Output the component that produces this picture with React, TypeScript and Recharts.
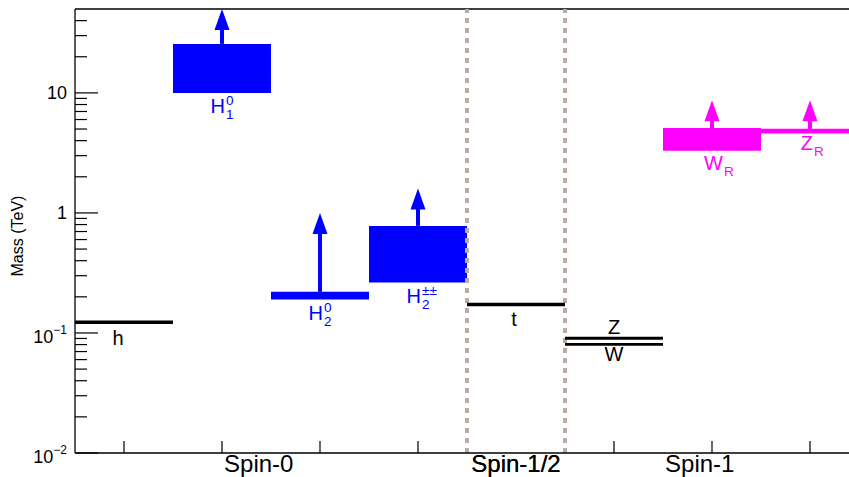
import React from 'react';
import { ComposedChart, XAxis, YAxis, ReferenceArea, ReferenceLine, Scatter } from 'recharts';

// ---------- data ----------
// spin groups along the x axis (bins 0..8)
const spinLabels = ['Spin-0', 'Spin-1/2', 'Spin-1'];
const spinLabelPos = [1.875, 4.5, 6.375];
const spinBoundaries = [4, 5];
const xBinTicks = [0.5, 1.5, 2.5, 3.5, 4.5, 5.5, 6.5, 7.5];

// y axis ticks (TeV, log scale)
const yMajorTicks = [0.01, 0.1, 1, 10];
const yMinorTicks = [
  0.02, 0.03, 0.04, 0.05, 0.06, 0.07, 0.08, 0.09,
  0.2, 0.3, 0.4, 0.5, 0.6, 0.7, 0.8, 0.9,
  2, 3, 4, 5, 6, 7, 8, 9,
  20, 30, 40,
];
const yDomain = [0.01, 50];

// mass ranges drawn as boxes
const boxNames = ['H1', 'H2', 'Hpp', 'WR'];
const boxBin = [1, 2, 3, 6];
const boxLow = [10, 0.19, 0.263, 3.3];
const boxHigh = [25.6, 0.22, 0.78, 5.1];
const boxGroup = ['scalar', 'scalar', 'scalar', 'gauge'];

// single mass values drawn as lines
const lineNames = ['h', 't', 'Z', 'W', 'ZR'];
const lineBin = [0, 4, 5, 5, 7];
const lineMass = [0.123, 0.173, 0.0905, 0.0803, 4.8];
const lineGroup = ['sm', 'sm', 'sm', 'sm', 'gauge'];

// lower-limit arrows
const arrowBin = [1, 2, 3, 6, 7];
const arrowFrom = [25.6, 0.22, 0.78, 5.1, 4.8];
const arrowTo = [50, 1.0, 1.6, 8.7, 8.7];
const arrowGroup = ['scalar', 'scalar', 'scalar', 'gauge', 'gauge'];

// particle labels
const labelNames = ['h', 'H1', 'H2', 'Hpp', 't', 'Z', 'W', 'WR', 'ZR'];
const labelBase = ['h', 'H', 'H', 'H', 't', 'Z', 'W', 'W', 'Z'];
const labelSub = ['', '1', '2', '2', '', '', '', 'R', 'R'];
const labelSup = ['', '0', '0', '±±', '', '', '', '', ''];
const labelBin = [0, 1, 2, 3, 4, 5, 5, 6, 7];
const labelMass = [0.123, 10, 0.19, 0.263, 0.173, 0.0905, 0.0803, 3.3, 4.8];
const labelGroup = ['sm', 'scalar', 'scalar', 'scalar', 'sm', 'sm', 'sm', 'gauge', 'gauge'];

// ---------- styles ----------
const FONT = '"Liberation Sans", Arial, Helvetica, sans-serif';
const groupColor: Record<string, string> = { sm: '#000000', scalar: '#0000ff', gauge: '#ff00ff' };
const DOT_COLOR = '#bcaaa4';
const lineWidth: Record<string, number> = { h: 3.5, t: 3.5, Z: 3, W: 2.6, ZR: 4.6 };
// pixel offsets of label text relative to anchor point
const labelOffset: Record<string, { dx: number; dy: number }> = {
  h: { dx: -6, dy: 23 },
  t: { dx: -2, dy: 22 },
  Z: { dx: 0, dy: -4 },
  W: { dx: 0, dy: 16.5 },
  H1: { dx: 3, dy: 20 },
  H2: { dx: 3, dy: 20 },
  Hpp: { dx: 3, dy: 20 },
  WR: { dx: 11, dy: 19 },
  ZR: { dx: 3, dy: 19 },
};

const labelPoints = labelNames.map((n, i) => ({
  name: n,
  x: labelBin[i] + 0.5,
  y: labelMass[i],
  base: labelBase[i],
  sub: labelSub[i],
  sup: labelSup[i],
  color: groupColor[labelGroup[i]],
}));

const LabelShape = (props: any) => {
  const { cx, cy, payload } = props;
  if (cx == null || cy == null) return null;
  const off = labelOffset[payload.name];
  const bx = cx + off.dx;
  const by = cy + off.dy;
  const hasScript = payload.sub || payload.sup;
  return (
    <g>
      <text
        x={bx}
        y={by}
        textAnchor={hasScript ? 'end' : 'middle'}
        fontSize={20}
        fontFamily={FONT}
        fill={payload.color}
      >
        {payload.base}
      </text>
      {payload.sup ? (
        <text x={bx + 1} y={by - 8} textAnchor="start" fontSize={13.5} fontFamily={FONT} fill={payload.color}>
          {payload.sup}
        </text>
      ) : null}
      {payload.sub ? (
        <text x={bx + 1} y={by + 6} textAnchor="start" fontSize={13.5} fontFamily={FONT} fill={payload.color}>
          {payload.sub}
        </text>
      ) : null}
    </g>
  );
};

const ArrowShape = (color: string) => (props: any) => {
  const { x1, y1, x2, y2 } = props;
  if ([x1, y1, x2, y2].some((v) => v == null || Number.isNaN(v))) return null;
  const headH = 21;
  const headW = 15;
  return (
    <g>
      <line x1={x1} y1={y1} x2={x2} y2={y2 + headH - 1} stroke={color} strokeWidth={4} />
      <polygon
        points={`${x2},${y2} ${x2 - headW / 2},${y2 + headH} ${x2 + headW / 2},${y2 + headH}`}
        fill={color}
      />
    </g>
  );
};

const XTick = (props: any) => {
  const { x, y, payload } = props;
  const v = payload.value;
  const li = spinLabelPos.indexOf(v);
  if (li >= 0) {
    return (
      <text x={x} y={y + 18.5} textAnchor="middle" fontSize={24} fontFamily={FONT} fill="#000">
        {spinLabels[li]}
      </text>
    );
  }
  return <line x1={x} x2={x} y1={y} y2={y - 12} stroke="#000" strokeWidth={1.2} />;
};

const expText: Record<number, string> = { 0.01: '−2', 0.1: '−1' };

const YTick = (props: any) => {
  const { x, y, payload } = props;
  const v = payload.value;
  const major = yMajorTicks.includes(v);
  const len = major ? 23 : 12;
  return (
    <g>
      <line x1={x} x2={x + len} y1={y} y2={y} stroke="#000" strokeWidth={1.2} />
      {major ? (
        v >= 1 ? (
          <text x={x - 8} y={y + 6.5} textAnchor="end" fontSize={18} fontFamily={FONT} fill="#000">
            {String(v)}
          </text>
        ) : (
          <text x={x - 8} y={y + 10} textAnchor="end" fontSize={18} fontFamily={FONT} fill="#000">
            <tspan>10</tspan>
            <tspan dy={-9} fontSize={12}>{expText[v]}</tspan>
          </text>
        )
      ) : null}
    </g>
  );
};

const YTitle = () => (
  <text
    x={23}
    y={236}
    transform="rotate(-90 23 236)"
    textAnchor="middle"
    fontSize={16}
    fontFamily={FONT}
    fill="#000"
  >
    Mass (TeV)
  </text>
);

export default function App() {
  return (
    <div
      style={{
        position: 'fixed',
        left: 0,
        top: 0,
        width: 849,
        height: 477,
        overflow: 'hidden',
        background: '#ffffff',
      }}
    >
      <ComposedChart width={872} height={477} margin={{ top: 9, right: 13, bottom: 0, left: 0 }}>
        <XAxis
          type="number"
          dataKey="x"
          domain={[0, 8]}
          allowDataOverflow
          ticks={[...xBinTicks, ...spinLabelPos]}
          interval={0}
          tick={<XTick />}
          tickLine={false}
          tickSize={0}
          tickMargin={0}
          height={24}
          axisLine={{ stroke: '#000', strokeWidth: 1.3 }}
        />
        <YAxis
          type="number"
          dataKey="y"
          scale="log"
          domain={yDomain}
          allowDataOverflow
          ticks={[...yMajorTicks, ...yMinorTicks]}
          interval={0}
          tick={<YTick />}
          tickLine={false}
          tickSize={0}
          tickMargin={0}
          width={75}
          axisLine={{ stroke: '#000', strokeWidth: 1.3 }}
          label={() => <YTitle />}
        />
        <ReferenceLine y={yDomain[1]} stroke="#000" strokeWidth={1.5} ifOverflow="visible" />
        {spinBoundaries.map((b) => (
          <ReferenceLine
            key={`sb${b}`}
            x={b}
            stroke={DOT_COLOR}
            strokeWidth={4}
            strokeDasharray="5 5"
            ifOverflow="visible"
          />
        ))}
        {boxNames.map((n, i) => (
          <ReferenceArea
            key={`box-${n}`}
            x1={boxBin[i]}
            x2={boxBin[i] + 1}
            y1={boxLow[i]}
            y2={boxHigh[i]}
            fill={groupColor[boxGroup[i]]}
            fillOpacity={1}
            stroke="none"
            ifOverflow="visible"
          />
        ))}
        {lineNames.map((n, i) => (
          <ReferenceLine
            key={`line-${n}`}
            segment={[
              { x: lineBin[i], y: lineMass[i] },
              { x: lineBin[i] + 1, y: lineMass[i] },
            ]}
            stroke={groupColor[lineGroup[i]]}
            strokeWidth={lineWidth[n]}
            ifOverflow="visible"
          />
        ))}
        {arrowBin.map((b, i) => (
          <ReferenceLine
            key={`arrow-${i}`}
            segment={[
              { x: b + 0.5, y: arrowFrom[i] },
              { x: b + 0.5, y: arrowTo[i] },
            ]}
            stroke={groupColor[arrowGroup[i]]}
            shape={ArrowShape(groupColor[arrowGroup[i]])}
            ifOverflow="visible"
          />
        ))}
        <Scatter data={labelPoints} dataKey="y" shape={LabelShape} isAnimationActive={false} />
      </ComposedChart>
    </div>
  );
}
